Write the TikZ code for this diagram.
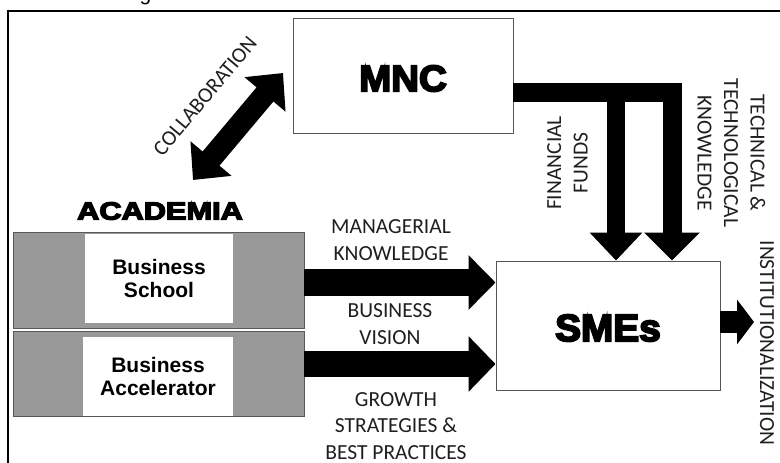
\documentclass[tikz,border=0pt]{standalone}
\usepackage{fontspec}
\setmainfont{Carlito}
\newfontfamily\heavy{Liberation Sans Bold}[FakeBold=5]
\newfontfamily\arialf{Liberation Sans}
\usetikzlibrary{arrows.meta,shadows}
\definecolor{boxgray}{RGB}{153,153,153}
\definecolor{edgegray}{RGB}{85,85,85}
\begin{document}
\begin{tikzpicture}[x=1pt,y=-1pt,
  lbl/.style={font=\fontsize{21.5}{26.5}\selectfont, align=center, inner sep=0pt, text=black!88},
  bigtxt/.style={font=\heavy\fontsize{#1}{#1}\selectfont, inner sep=0pt},
  whitebox/.style={draw=edgegray, line width=0.9pt, fill=white, inner sep=0pt,
    drop shadow={opacity=0.3, shadow xshift=1.2pt, shadow yshift=-1.2pt}},
  graybox/.style={draw=black!65, line width=0.9pt, fill=boxgray, inner sep=0pt,
    drop shadow={opacity=0.3, shadow xshift=1.2pt, shadow yshift=-1.2pt}},
  innerbox/.style={fill=white, inner sep=0pt, align=center,
    font=\arialf\bfseries\fontsize{21}{23}\selectfont},
  fat/.style={draw=black, line width=#1}
]
\useasboundingbox (0,0) rectangle (780,463);

% partial caption letter at the top
\node[font=\arialf\fontsize{21}{21}\selectfont, anchor=base, inner sep=0pt] (gpart) at (145.5,0.5) {g};

% frame
\draw[line width=2pt] (8,463) -- (8,10.5) -- (780,10.5);

% MNC
\node[whitebox, minimum width=220pt, minimum height=115pt] (mnc) at (403,75.5) {};
\node[bigtxt=37, xscale=1.04] (mnct) at (403,78.5) {MNC};

% SMEs
\node[whitebox, minimum width=224pt, minimum height=129pt] (sme) at (608,325.5) {};
\node[bigtxt=38, xscale=1.02] (smet) at (608,328) {SMEs};

% Academia
\node[bigtxt=25, xscale=1.23] (acad) at (160,211) {ACADEMIA};
\node[graybox, minimum width=291pt, minimum height=96pt] (bs) at (158.5,280) {};
\node[innerbox, minimum width=148pt, minimum height=89pt] (bst) at (159,278.5) {Business\\School};
\node[graybox, minimum width=291pt, minimum height=85pt] (ba) at (158.5,373.5) {};
\node[innerbox, minimum width=150pt, minimum height=79pt] (bat) at (158,376.5) {Business\\Accelerator};

% helper coordinates
\coordinate (barY) at (0,92);
\coordinate (t1x) at (616,0);
\coordinate (t2x) at (672,0);
\coordinate (a1y) at (0,282.5);
\coordinate (a2y) at (0,364);
\coordinate (a3y) at (0,322);
\coordinate (instTip) at (754,322);
\coordinate (colA) at (193,180);
\coordinate (colB) at (283,73);

% MNC -> SMEs arrows
\draw[fat=19pt, line join=miter, -{Triangle[length=28pt,width=54pt]}]
  (mnc.east |- barY) -| (sme.north -| t2x);
\draw[fat=18pt, -{Triangle[length=28pt,width=51pt]}]
  (t1x |- barY) -- (sme.north -| t1x);

% Academia -> SMEs arrows
\draw[fat=27pt, -{Triangle[length=27pt,width=53pt]}] (bs.east |- a1y) -- (sme.west |- a1y);
\draw[fat=26pt, -{Triangle[length=27pt,width=54pt]}] (ba.east |- a2y) -- (sme.west |- a2y);

% institutionalization
\draw[fat=22pt, -{Triangle[length=17pt,width=44pt]}] (sme.east |- a3y) -- (instTip);

% collaboration
\draw[fat=22pt, {Triangle[length=28pt,width=52pt]}-{Triangle[length=28pt,width=52pt]}] (colA) -- (colB);

% labels
\node[lbl, rotate=50] (col) at (205,96) {COLLABORATION};
\node[lbl] (mk) at (391,240) {MANAGERIAL\\KNOWLEDGE};
\node[lbl] (bv) at (390,324) {BUSINESS\\VISION};
\node[lbl] (gs) at (396,426) {GROWTH\\STRATEGIES \&\\BEST PRACTICES};
\node[lbl, rotate=90] (ff) at (567.5,163) {FINANCIAL\\FUNDS};
\node[lbl, rotate=-90] (tt) at (731.5,153) {TECHNICAL \&\\TECHNOLOGICAL\\KNOWLEDGE};
\node[lbl, rotate=-90] (inst) at (767,343) {INSTITUTIONALIZATION};
\end{tikzpicture}
\end{document}
